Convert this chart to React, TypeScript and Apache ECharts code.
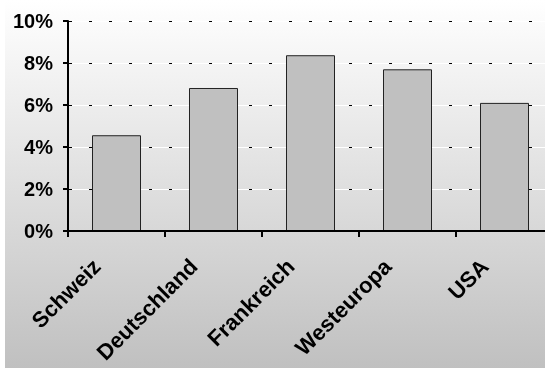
import React, { useEffect, useRef } from "react";
import * as echarts from "echarts";

// Regions and their rates (in percent)
const regions = ["Schweiz", "Deutschland", "Frankreich", "Westeuropa", "USA"];
const rates = [4.56, 6.81, 8.37, 7.7, 6.1];
const yTicks = { min: 0, max: 10, interval: 2 };

const FONT = "'Liberation Sans', Arial, sans-serif";
const W = 560;
const H = 368;

export default function App() {
  const ref = useRef<HTMLDivElement>(null);

  useEffect(() => {
    if (!ref.current) return;
    const chart = echarts.init(ref.current, null, { renderer: "svg" });
    chart.setOption({
      animation: false,
      graphic: [
        {
          type: "rect",
          z: -10,
          silent: true,
          shape: { x: 0, y: 0, width: W, height: H },
          style: {
            fill: new echarts.graphic.LinearGradient(0, 0, 0, 1, [
              { offset: 0, color: "#ffffff" },
              { offset: 1, color: "#c0c0c0" },
            ]),
          },
        },
        {
          type: "rect",
          z: -9,
          silent: true,
          shape: { x: 0, y: 0, width: 5, height: H },
          style: { fill: "#ffffff" },
        },
      ],
      grid: { left: 68, top: 21, width: 485, height: 210, containLabel: false },
      xAxis: {
        type: "category",
        data: regions,
        z: 3,
        axisLine: { show: true, lineStyle: { color: "#000", width: 2 } },
        axisTick: { show: true, length: 6, lineStyle: { color: "#000", width: 2 } },
        axisLabel: {
          rotate: 45,
          margin: 12,
          padding: [0, 28, 0, 0],
          interval: 0,
          color: "#000",
          fontSize: 22,
          fontWeight: "bold",
          fontFamily: FONT,
        },
        splitLine: { show: false },
      },
      yAxis: [
        {
          type: "value",
          ...yTicks,
          axisLine: { show: true, lineStyle: { color: "#000", width: 2 } },
          axisTick: { show: true, length: 5, lineStyle: { color: "#000", width: 2 } },
          axisLabel: {
            margin: 15,
            color: "#000",
            fontSize: 20,
            fontWeight: "bold",
            fontFamily: FONT,
            formatter: (v: number) => `${v}%`,
          },
          splitLine: { show: true, lineStyle: { color: "#ffffff", width: 1, type: "solid" } },
        },
        {
          type: "value",
          ...yTicks,
          position: "left",
          z: 1,
          axisLine: { show: false },
          axisTick: { show: false },
          axisLabel: { show: false },
          splitLine: {
            show: true,
            lineStyle: { color: "#000", width: 1, type: [3, 17], dashOffset: 19 },
          },
        },
      ],
      series: [
        {
          type: "bar",
          data: rates,
          yAxisIndex: 0,
          barWidth: 49,
          z: 2,
          itemStyle: { color: "#c0c0c0", borderColor: "#222", borderWidth: 1 },
        },
      ],
    });
    return () => chart.dispose();
  }, []);

  return (
    <div
      ref={ref}
      style={{ position: "fixed", left: 0, top: 0, width: W, height: H }}
    />
  );
}
